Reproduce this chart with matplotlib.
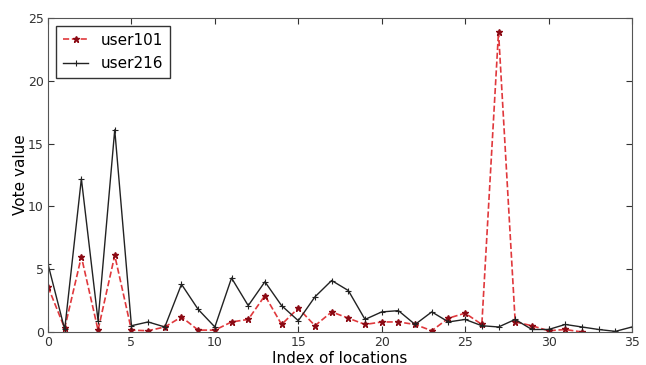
import numpy as np
import matplotlib
matplotlib.use("Agg")
import matplotlib.pyplot as plt

user101 = [3.6, 0.3, 6.0, 0.15, 6.1, 0.15, 0.1, 0.4, 1.2, 0.15,
           0.15, 0.8, 1.0, 2.9, 0.6, 1.9, 0.5, 1.6, 1.1, 0.6,
           0.8, 0.8, 0.6, 0.1, 1.1, 1.5, 0.6, 23.9, 0.8, 0.5,
           0.1, 0.2, 0.0]
user216 = [5.4, 0.2, 12.2, 0.9, 16.1, 0.5, 0.8, 0.4, 3.8, 1.8,
           0.4, 4.3, 2.1, 4.0, 2.1, 0.9, 2.8, 4.1, 3.3, 1.0,
           1.6, 1.7, 0.6, 1.6, 0.8, 1.0, 0.5, 0.4, 1.0, 0.2,
           0.2, 0.6, 0.4, 0.2, 0.05, 0.4]

fig = plt.figure(figsize=(6.46, 3.65), dpi=100)
ax = fig.add_axes([48 / 646, 1 - 332 / 365, 584 / 646, 314 / 365])

ax.plot(np.arange(len(user101)), user101, "--", color="#e0383c", linewidth=1.2,
        marker="*", markersize=5, markerfacecolor="#8b0a14", markeredgecolor="#8b0a14",
        label="user101")
ax.plot(np.arange(len(user216)), user216, "-", color="#222222", linewidth=1.0,
        marker="+", markersize=5, markeredgewidth=0.8, label="user216")

ax.set_xlim(0, 35)
ax.set_ylim(0, 25)
ax.set_xticks(np.arange(0, 36, 5))
ax.set_yticks(np.arange(0, 26, 5))
ax.tick_params(direction="in", top=True, right=True, labelsize=9, colors="#333333",
               length=4, pad=3)
for s in ax.spines.values():
    s.set_color("#555555")

ax.set_xlabel("Index of locations", fontsize=11, labelpad=1)
ax.set_ylabel("Vote value", fontsize=11, labelpad=0)

leg = ax.legend(loc="upper left", fontsize=11, fancybox=False, framealpha=1,
                edgecolor="#333333", handlelength=1.7, borderpad=0.45,
                labelspacing=0.55, borderaxespad=0.5)
leg.get_frame().set_linewidth(1.0)

fig.savefig("out.png", dpi=100)
